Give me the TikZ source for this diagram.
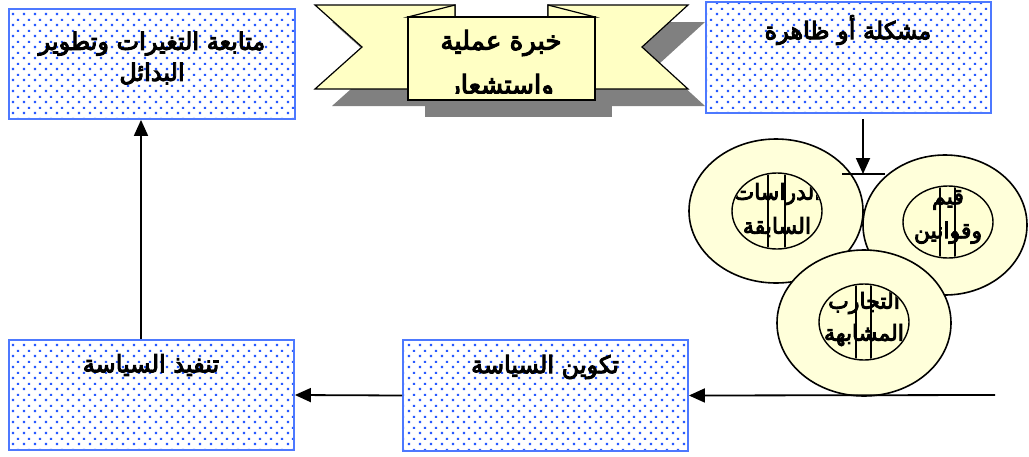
\documentclass[tikz,border=0pt]{standalone}
\usepackage{fontspec}
\usetikzlibrary{patterns.meta,arrows.meta}
\TeXXeTstate=1
\newfontfamily\arabicfont[Script=Arabic, FakeBold=4]{DejaVu Sans}
\definecolor{boxblue}{RGB}{77,121,255}
\definecolor{dotblue}{RGB}{40,90,255}
\definecolor{ribbon}{RGB}{255,255,196}
\definecolor{ribshadow}{RGB}{128,128,128}
\definecolor{circfill}{RGB}{255,255,218}
\definecolor{innerfill}{RGB}{255,255,212}
\tikzdeclarepattern{
  name=bluedots,
  type=uncolored,
  bottom left={(0pt,0pt)},
  top right={(11pt,11pt)},
  tile size={(11pt,11pt)},
  code={
    \fill (1pt,1pt) rectangle (3.4pt,3.4pt);
    \fill (6.5pt,6.5pt) rectangle (8.9pt,8.9pt);
  }
}
\begin{document}
\begin{tikzpicture}[x=1pt,y=-1pt,
  box/.style={draw=boxblue, line width=1.8pt, preaction={fill=white},
    pattern=bluedots, pattern color=dotblue, inner sep=0pt},
  lbl/.style={font=\arabicfont\fontsize{24}{31}\selectfont, align=center, inner sep=0pt},
  blbl/.style={font=\arabicfont\fontsize{26}{44}\selectfont, align=center, inner sep=0pt},
  clbl/.style={font=\arabicfont\fontsize{22}{34}\selectfont, align=center, inner sep=0pt},
  arr/.style={line width=1.8pt, -{Triangle[length=16pt,width=14pt]}},
  rib/.style={fill=ribbon, draw=black, line width=1.2pt, line join=miter},
  ribsh/.style={fill=ribshadow},
  outerc/.style={fill=circfill, draw=black, line width=1.6pt},
  innerc/.style={fill=innerfill, draw=black, line width=1.4pt},
  vline/.style={line width=1.2pt}
]
\useasboundingbox (0,0) rectangle (1029,456);

% boxes
\node[box, minimum width=286pt, minimum height=110pt] (change) at (152,64) {};
\node[box, minimum width=285pt, minimum height=111pt] (problem) at (848.5,57.5) {};
\node[box, minimum width=285pt, minimum height=110pt] (impl) at (151.5,395) {};
\node[box, minimum width=285pt, minimum height=111pt] (form) at (545.5,395.5) {};

\node[lbl] (tchange) at (152,58) {\beginR متابعة التغيرات وتطوير\endR\\\beginR البدائل\endR};
\node[lbl] (tproblem) at (848,30) {\beginR مشكلة أو ظاهرة\endR};
\node[lbl] (timpl) at (151,365) {\beginR تنفيذ السياسة\endR};
\node[lbl] (tform) at (545,367) {\beginR تكوين السياسة\endR};

% ribbon shadow
\begin{scope}[shift={(17,17)}]
  \fill[ribsh] (315,5) -- (455,5) -- (455,89) -- (315,89) -- (362,47) -- cycle;
  \fill[ribsh] (688,5) -- (548,5) -- (548,89) -- (688,89) -- (642,47) -- cycle;
  \fill[ribsh] (408,17) rectangle (595,100);
\end{scope}
% ribbon
\draw[rib] (315,5) -- (455,5) -- (455,89) -- (315,89) -- (362,47) -- cycle;
\draw[rib] (688,5) -- (548,5) -- (548,89) -- (688,89) -- (642,47) -- cycle;
\draw[rib] (408,17) -- (455,5) -- (455,17) -- cycle;
\draw[rib] (595,17) -- (548,5) -- (548,17) -- cycle;
\draw[rib] (408,17) rectangle (595,100);
\begin{scope}
  \clip (409,18) rectangle (594,93);
  \node[blbl] (texp) at (501,65) {\beginR خبرة عملية\endR\\\beginR واستشعار\endR};
\end{scope}

% circles
% left
\draw[outerc] (776,211) ellipse [x radius=87, y radius=72];
\draw[innerc] (777,211) ellipse [x radius=45, y radius=38];
\begin{scope}
  \clip (777,211) ellipse [x radius=44, y radius=37];
  \node[clbl] (tstudies) at (777,210) {\beginR الدراسات\endR\\\beginR السابقة\endR};
  \draw[vline] (768,160) -- (768,260);
  \draw[vline] (785,160) -- (785,260);
\end{scope}
% right
\draw[outerc] (945,225) ellipse [x radius=82, y radius=70];
\draw[innerc] (948,222) ellipse [x radius=45, y radius=36];
\begin{scope}
  \clip (948,222) ellipse [x radius=44, y radius=35];
  \node[clbl] (tvalues) at (948,217) {\beginR قيم\endR\\\beginR وقوانين\endR};
  \draw[vline] (940,170) -- (940,270);
  \draw[vline] (955,170) -- (955,270);
\end{scope}
% bottom
\draw[outerc] (864,323) ellipse [x radius=87, y radius=73];
\draw[innerc] (864,322) ellipse [x radius=45, y radius=38];
\begin{scope}
  \clip (864,322) ellipse [x radius=44, y radius=37];
  \node[clbl, font=\arabicfont\fontsize{22}{32}\selectfont] (texper) at (864,319) {\beginR التجارب\endR\\\beginR المشابهة\endR};
  \draw[vline] (856,270) -- (856,370);
  \draw[vline] (871,270) -- (871,370);
\end{scope}

% connectors
\coordinate (rightend) at (995,395);
\coordinate (pstart) at (863,119);
\coordinate (bartip) at (863,174);
\coordinate (barl) at (842,174);
\coordinate (barr) at (885,174);
\draw[line width=1.6pt] (barl) -- (barr);
\draw[arr] (pstart) -- (bartip);
\draw[arr] (rightend) -- (form.east);
\draw[arr] (form.west) -- (impl.east);
\draw[arr] ([xshift=-10.5pt]impl.north) -- ([xshift=-11pt]change.south);
\end{tikzpicture}
\end{document}
